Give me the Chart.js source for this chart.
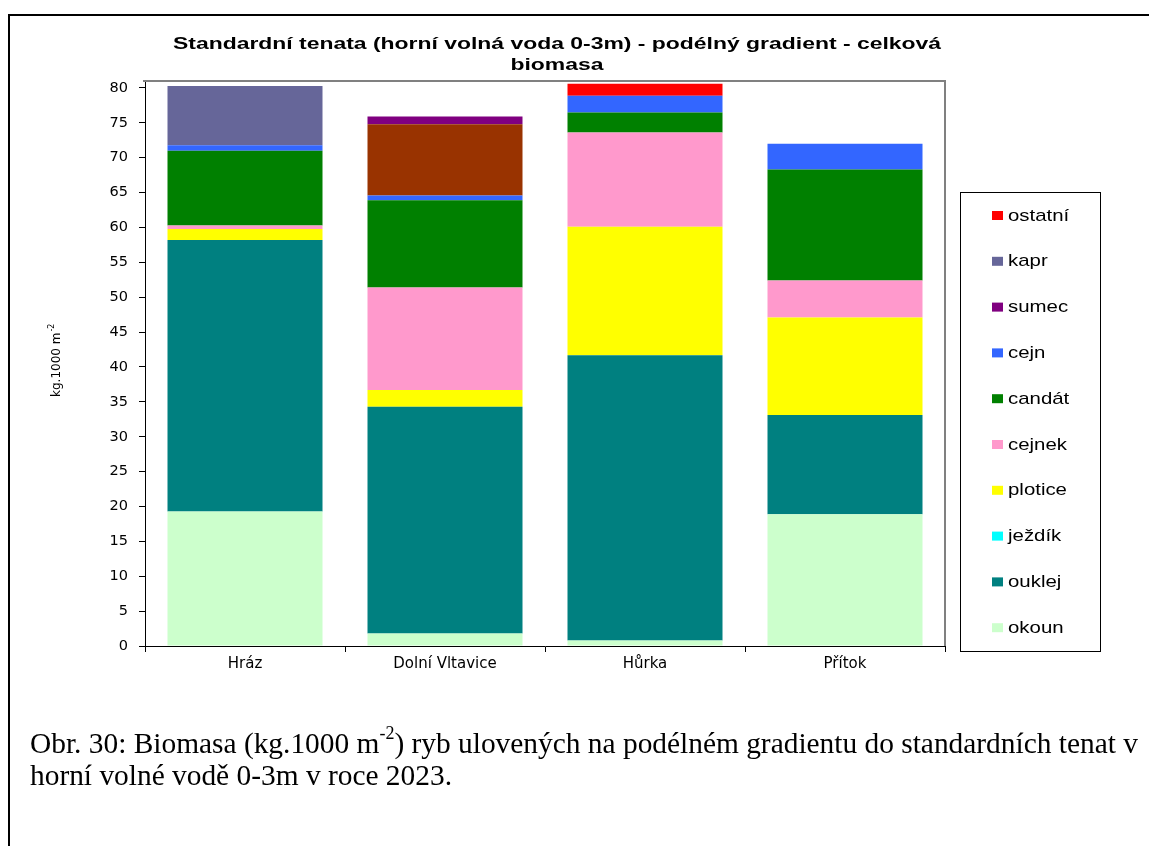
<!DOCTYPE html>
<html lang="cs">
<head>
<meta charset="utf-8">
<title>Standardní tenata - celková biomasa</title>
<script src="https://cdn.jsdelivr.net/npm/chart.js@4.4.1/dist/chart.umd.min.js"></script>
<style>
  html, body { margin: 0; padding: 0; background: #fff; overflow: hidden; }
  body { width: 1149px; height: 846px; position: relative; }
  #frame { position: absolute; left: 8px; top: 14px; width: 1300px; height: 1000px;
           border-top: 2px solid #000; border-left: 2px solid #000; }
  #chart { position: absolute; left: 0; top: 0; }
  #caption { position: absolute; left: 30px; top: 727px; white-space: nowrap;
             font-family: "Liberation Serif", "Times New Roman", serif; font-size: 29.4px;
             line-height: 32px; color: #000; }
  #caption sup { font-size: 18px; line-height: 0; position: relative; top: -3px; vertical-align: super; }
</style>
</head>
<body>
<div id="frame"></div>
<canvas id="chart" width="1149" height="846"></canvas>
<div id="caption">Obr. 30: Biomasa (kg.1000 m<sup>-2</sup>) ryb ulovených na podélném gradientu do standardních tenat v<br>horní volné vodě 0-3m v roce 2023.</div>
<script>
// Sampling sites along the longitudinal gradient
const categories = ['Hráz', 'Dolní Vltavice', 'Hůrka', 'Přítok'];

// Biomass per species (kg.1000 m-2), stacked bottom to top
const okoun   = [19.3,  1.8,  0.8, 18.9];
const ouklej  = [38.9, 32.5, 40.9, 14.2];
const jezdik  = [ 0.0,  0.0,  0.0,  0.0];
const plotice = [ 1.6,  2.4, 18.4, 14.0];
const cejnek  = [ 0.5, 14.7, 13.5,  5.3];
const candat  = [10.7, 12.5,  2.9, 15.9];
const cejn    = [ 0.8,  0.7,  2.4,  3.7];
const bolen   = [ 0.0, 10.2,  0.0,  0.0];
const sumec   = [ 0.0,  1.1,  0.0,  0.0];
const kapr    = [ 8.5,  0.0,  0.0,  0.0];
const ostatni = [ 0.0,  0.0,  1.7,  0.0];

// Value axis ticks
const yTicks = [0, 5, 10, 15, 20, 25, 30, 35, 40, 45, 50, 55, 60, 65, 70, 75, 80];

const titleLines = ['Standardní tenata (horní volná voda 0-3m) - podélný gradient - celková', 'biomasa'];

const series = [
  { label: 'okoun',   data: okoun,   color: '#CCFFCC' },
  { label: 'ouklej',  data: ouklej,  color: '#008080' },
  { label: 'ježdík',  data: jezdik,  color: '#00FFFF' },
  { label: 'plotice', data: plotice, color: '#FFFF00' },
  { label: 'cejnek',  data: cejnek,  color: '#FF99CC' },
  { label: 'candát',  data: candat,  color: '#008000' },
  { label: 'cejn',    data: cejn,    color: '#3366FF' },
  { label: 'bolen',   data: bolen,   color: '#993300', inLegend: false },
  { label: 'sumec',   data: sumec,   color: '#800080' },
  { label: 'kapr',    data: kapr,    color: '#666699' },
  { label: 'ostatní', data: ostatni, color: '#FF0000' }
];

const SANS = '"DejaVu Sans", "Liberation Sans", Arial, sans-serif';
const ARIAL = '"Liberation Sans", Arial, sans-serif';

// draw text horizontally widened, centred on cx
function wideText(ctx, text, cx, cy, stretch) {
  ctx.save();
  ctx.translate(cx, cy);
  ctx.scale(stretch, 1);
  ctx.fillText(text, 0, 0);
  ctx.restore();
}

// Title, y-axis caption, plot frame and boxed legend
const decorations = {
  id: 'decorations',
  afterDraw(chart) {
    const ctx = chart.ctx;
    const area = chart.chartArea;
    ctx.save();

    // plot area frame (top and right edges)
    ctx.strokeStyle = '#808080';
    ctx.lineWidth = 2;
    ctx.beginPath();
    ctx.moveTo(area.left - 2, area.top);
    ctx.lineTo(area.right, area.top);
    ctx.lineTo(area.right, area.bottom);
    ctx.stroke();

    // title
    ctx.fillStyle = '#000';
    ctx.font = 'bold 16px ' + ARIAL;
    ctx.textAlign = 'center';
    ctx.textBaseline = 'middle';
    const tw = ctx.measureText(titleLines[0]).width;
    const stretch = 768 / tw;
    wideText(ctx, titleLines[0], 557, 45, stretch);
    wideText(ctx, titleLines[1], 557, 66, stretch);

    // y-axis caption with superscript
    ctx.translate(60, 397);
    ctx.rotate(-Math.PI / 2);
    ctx.textAlign = 'left';
    ctx.textBaseline = 'alphabetic';
    ctx.font = '12px ' + SANS;
    const base = 'kg.1000 m';
    ctx.fillText(base, 0, 0);
    const w = ctx.measureText(base).width;
    ctx.font = '8px ' + SANS;
    ctx.fillText('-2', w + 1, -6);
    ctx.setTransform(1, 0, 0, 1, 0, 0);

    // legend box
    const lx = 960, ly = 192, lw = 140, lh = 459;
    ctx.strokeStyle = '#000';
    ctx.lineWidth = 1;
    ctx.strokeRect(lx + 0.5, ly + 0.5, lw, lh);
    const items = chart.data.datasets.filter(d => d.inLegend !== false).slice().reverse();
    ctx.font = '17px ' + ARIAL;
    ctx.textAlign = 'left';
    ctx.textBaseline = 'middle';
    items.forEach((d, i) => {
      const cy = 215 + i * 45.8;
      ctx.fillStyle = d.backgroundColor;
      ctx.fillRect(992, cy - 4, 11, 9);
      ctx.fillStyle = '#000';
      ctx.save();
      ctx.translate(1008, cy + 1);
      ctx.scale(1.2, 1);
      ctx.fillText(d.label, 0, 0);
      ctx.restore();
    });
    ctx.restore();
  }
};

new Chart(document.getElementById('chart'), {
  type: 'bar',
  data: {
    labels: categories,
    datasets: series.map(s => ({
      label: s.label,
      data: s.data,
      backgroundColor: s.color,
      borderWidth: 0,
      inLegend: s.inLegend,
      barPercentage: 0.775,
      categoryPercentage: 1.0
    }))
  },
  options: {
    responsive: false,
    animation: false,
    devicePixelRatio: 1,
    layout: { padding: { left: 0, top: 81, right: 204, bottom: 160 } },
    plugins: {
      legend: { display: false },
      title: { display: false },
      tooltip: { enabled: false }
    },
    scales: {
      x: {
        stacked: true,
        afterFit(scale) { scale.height = 40; },
        grid: { display: true, offset: true, drawOnChartArea: false, drawTicks: true,
                tickLength: 6, color: '#000', lineWidth: 1 },
        border: { display: true, color: '#000', width: 1 },
        ticks: { color: '#000', font: { family: SANS, size: 15 }, padding: 3, maxRotation: 0 }
      },
      y: {
        stacked: true,
        min: 0,
        max: 81,
        afterFit(scale) { scale.width = 145; },
        afterBuildTicks(scale) { scale.ticks = yTicks.map(v => ({ value: v })); },
        grid: { display: true, drawOnChartArea: false, drawTicks: true,
                tickLength: 6, color: '#000', lineWidth: 1 },
        border: { display: true, color: '#000', width: 1 },
        ticks: { color: '#000', font: { family: SANS, size: 14.5 }, padding: 11 }
      }
    }
  },
  plugins: [decorations]
});
</script>
</body>
</html>
